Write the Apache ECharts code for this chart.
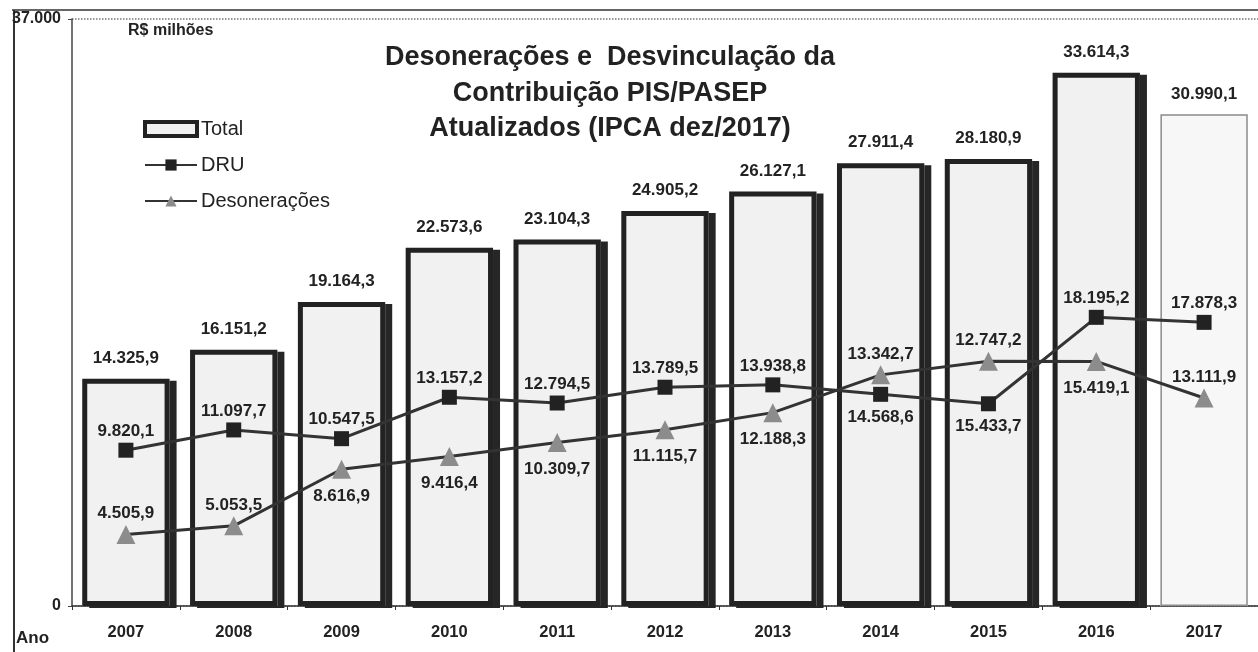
<!DOCTYPE html>
<html>
<head>
<meta charset="utf-8">
<title>Desonerações e Desvinculação da Contribuição PIS/PASEP</title>
<script src="https://cdn.jsdelivr.net/npm/echarts@6/dist/echarts.min.js"></script>
<style>
  html, body { margin: 0; padding: 0; background: #fff; }
  #chart { width: 1258px; height: 652px; }
</style>
</head>
<body>
<div id="chart"></div>
<script>
// dados (R$ milhões, IPCA dez/2017)
var anos = ['2007', '2008', '2009', '2010', '2011', '2012', '2013', '2014', '2015', '2016', '2017'];
var total = [14325.9, 16151.2, 19164.3, 22573.6, 23104.3, 24905.2, 26127.1, 27911.4, 28180.9, 33614.3, 30990.1];
var dru = [9820.1, 11097.7, 10547.5, 13157.2, 12794.5, 13789.5, 13938.8, 13342.7, 12747.2, 18195.2, 17878.3];
var desoneracoes = [4505.9, 5053.5, 8616.9, 9416.4, 10309.7, 11115.7, 12188.3, 14568.6, 15433.7, 15419.1, 13111.9];
var yTicks = [0, 37000];

var FONT = '"Liberation Sans", Arial, sans-serif';

// formato brasileiro: 14.325,9
function fmt(v, dec) {
    var p = v.toFixed(dec).split('.');
    var s = p[0].replace(/\B(?=(\d{3})+(?!\d))/g, '.');
    return p.length > 1 ? s + ',' + p[1] : s;
}

var labelBase = {
    show: true,
    fontFamily: FONT,
    fontWeight: 'bold',
    fontSize: 17,
    color: '#222'
};

var ultimo = total.length - 1;

// fundo das barras com a sombra (so o preenchimento, para a sombra nao duplicar a borda)
var fundoData = [];
// contorno das barras por cima
var barData = [];
for (var i = 0; i < total.length; i++) {
    if (i === ultimo) {
        // 2017: sem sombra e com borda fina
        fundoData.push({ value: total[i], itemStyle: { color: '#f7f7f7', shadowColor: 'rgba(0,0,0,0)' } });
        barData.push({ value: total[i], itemStyle: { borderColor: '#8c8c8c', borderWidth: 1.5 } });
    } else {
        fundoData.push(total[i]);
        barData.push(total[i]);
    }
}

// onde as linhas se cruzam (2014, 2015) os rotulos ficam trocados como no original
var druData = [], desData = [];
for (var i = 0; i < dru.length; i++) {
    var troca = desoneracoes[i] > dru[i];
    druData.push({
        value: dru[i],
        label: troca
            ? { position: 'bottom', distance: 7, formatter: fmt(desoneracoes[i], 1) }
            : { position: 'top', distance: 3, formatter: fmt(dru[i], 1) }
    });
    var acima = troca || desoneracoes[i] < dru[i] - 4000;
    desData.push({
        value: desoneracoes[i],
        label: {
            position: acima ? 'top' : 'bottom',
            distance: acima ? 3 : 9,
            formatter: troca ? fmt(dru[i], 1) : fmt(desoneracoes[i], 1)
        }
    });
}

var myChart = echarts.init(document.getElementById('chart'));

var option = {
    backgroundColor: '#ffffff',
    animation: false,
    textStyle: { fontFamily: FONT },
    title: {
        text: 'Desonerações e  Desvinculação da\nContribuição PIS/PASEP\nAtualizados (IPCA dez/2017)',
        left: 605,
        top: 35,
        textAlign: 'center',
        textStyle: {
            fontFamily: FONT,
            fontWeight: 'bold',
            fontSize: 27,
            lineHeight: 35.5,
            color: '#222'
        }
    },
    legend: {
        orient: 'vertical',
        left: 143,
        top: 119,
        padding: 0,
        itemWidth: 52,
        itemHeight: 14,
        itemGap: 16,
        textStyle: { fontFamily: FONT, fontSize: 20, color: '#222', padding: [0, 0, 0, -1] },
        data: [
            {
                name: 'Total',
                icon: 'rect',
                itemStyle: { color: '#f1f1f1', borderColor: '#222', borderWidth: 4 }
            },
            { name: 'DRU', itemStyle: { color: '#222' }, lineStyle: { width: 2 } },
            { name: 'Desonerações', itemStyle: { color: '#8c8c8c' }, lineStyle: { width: 2 } }
        ]
    },
    grid: {
        left: 72,
        right: -12,
        top: 19,
        bottom: 46
    },
    xAxis: {
        type: 'category',
        data: anos,
        axisLine: { lineStyle: { color: '#333', width: 1.5 } },
        axisTick: { show: true, length: 4, lineStyle: { color: '#333' } },
        axisLabel: {
            fontFamily: FONT,
            fontWeight: 'bold',
            fontSize: 16.5,
            color: '#222',
            margin: 18
        }
    },
    yAxis: {
        type: 'value',
        min: yTicks[0],
        max: yTicks[1],
        interval: yTicks[1] - yTicks[0],
        axisLine: { show: true, lineStyle: { color: '#444', width: 1.5 } },
        axisTick: { show: true, length: 4, lineStyle: { color: '#444' } },
        splitLine: { show: true, lineStyle: { color: '#777', type: 'dotted', width: 1.5 } },
        axisLabel: {
            fontFamily: FONT,
            fontWeight: 'bold',
            fontSize: 16,
            color: '#222',
            margin: 11,
            formatter: function (v) { return fmt(v, 0); }
        }
    },
    series: [
        {
            name: 'Total (sombra)',
            type: 'bar',
            barWidth: '81%',
            barGap: '-100%',
            silent: true,
            z: 1,
            itemStyle: {
                color: '#f1f1f1',
                shadowColor: '#262626',
                shadowBlur: 0,
                shadowOffsetX: 7,
                shadowOffsetY: 2
            },
            data: fundoData
        },
        {
            name: 'Total',
            type: 'bar',
            barWidth: '81%',
            barGap: '-100%',
            z: 2,
            itemStyle: {
                color: 'rgba(0,0,0,0)',
                borderColor: '#222',
                borderWidth: 5
            },
            label: Object.assign({}, labelBase, {
                position: 'top',
                distance: 12,
                formatter: function (p) { return fmt(p.value, 1); }
            }),
            data: barData
        },
        {
            name: 'DRU',
            type: 'line',
            z: 3,
            symbol: 'rect',
            symbolSize: 15,
            itemStyle: { color: '#222' },
            lineStyle: { color: '#333', width: 3 },
            label: labelBase,
            data: druData
        },
        {
            name: 'Desonerações',
            type: 'line',
            z: 3,
            symbol: 'triangle',
            symbolSize: 19,
            itemStyle: { color: '#8c8c8c' },
            lineStyle: { color: '#333', width: 3 },
            label: labelBase,
            data: desData
        }
    ],
    graphic: [
        // moldura da figura
        { type: 'line', shape: { x1: 12, y1: 10, x2: 1258, y2: 10 }, style: { stroke: '#333', lineWidth: 1.5 } },
        { type: 'line', shape: { x1: 14, y1: 10, x2: 14, y2: 652 }, style: { stroke: '#333', lineWidth: 2 } },
        {
            type: 'text', left: 128, top: 23,
            style: { text: 'R$ milhões', font: 'bold 16px ' + FONT, fill: '#222' }
        },
        {
            type: 'text', left: 16, top: 630,
            style: { text: 'Ano', font: 'bold 17px ' + FONT, fill: '#222' }
        }
    ]
};

myChart.setOption(option);
</script>
</body>
</html>
